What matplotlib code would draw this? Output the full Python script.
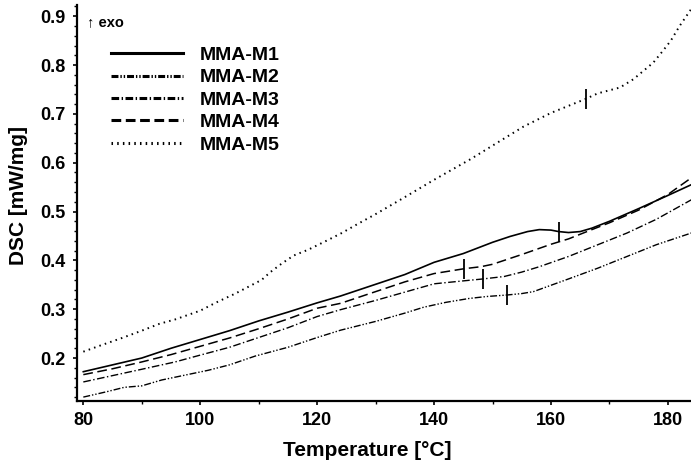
import matplotlib
matplotlib.use("Agg")
import matplotlib.pyplot as plt
from matplotlib.ticker import MultipleLocator

plt.rcParams['font.family'] = ['Liberation Sans', 'DejaVu Sans']
plt.rcParams['lines.scale_dashes'] = False

# ---- data ----
m1_x = [80, 85, 90, 93, 95, 100, 105, 110, 115, 120, 124, 130, 135, 140, 145, 150, 153, 156, 158, 160, 161.3, 163, 165, 167, 170, 175, 180, 184]
m1_y = [0.172, 0.186, 0.200, 0.212, 0.220, 0.238, 0.256, 0.276, 0.294, 0.313, 0.327, 0.351, 0.371, 0.396, 0.414, 0.437, 0.449, 0.459, 0.463, 0.462, 0.459, 0.457, 0.459, 0.466, 0.480, 0.506, 0.533, 0.555]

m2_x = [80, 84, 87, 90, 93.4, 97, 101.4, 105, 109.4, 115, 120, 124, 130, 135, 138.2, 142, 146, 149, 152.4, 155, 157, 160, 163, 168, 173, 178, 184]
m2_y = [0.120, 0.131, 0.140, 0.143, 0.155, 0.164, 0.175, 0.186, 0.204, 0.222, 0.242, 0.257, 0.275, 0.292, 0.304, 0.314, 0.322, 0.326, 0.329, 0.332, 0.336, 0.349, 0.362, 0.384, 0.408, 0.432, 0.456]

m3_x = [80, 85, 90, 95.7, 100, 105, 110, 115, 120, 124, 130, 135, 140, 145, 148.4, 152, 155, 158, 163, 168, 173, 178, 184]
m3_y = [0.151, 0.164, 0.177, 0.192, 0.206, 0.222, 0.242, 0.262, 0.285, 0.299, 0.318, 0.335, 0.352, 0.358, 0.362, 0.367, 0.376, 0.387, 0.408, 0.432, 0.456, 0.484, 0.524]

m4_x = [80, 85, 90, 95, 100, 105, 110, 115, 120, 124, 130, 135, 140, 145.2, 148, 150, 155, 160, 163, 167, 170, 175, 180, 184]
m4_y = [0.166, 0.178, 0.192, 0.207, 0.224, 0.241, 0.260, 0.280, 0.302, 0.312, 0.336, 0.356, 0.373, 0.383, 0.387, 0.392, 0.412, 0.433, 0.444, 0.463, 0.477, 0.503, 0.535, 0.569]

m5_x = [80, 83, 86.6, 90, 93, 95.7, 100, 102.6, 106, 110.5, 112, 114, 116, 118.5, 121.9, 124.2, 127, 129.9, 134.5, 140, 146.2, 150, 155.3, 160, 165.8, 168, 171.8, 174.1, 176, 177.5, 179.2, 180.5, 182, 184]
m5_y = [0.213, 0.226, 0.241, 0.256, 0.270, 0.279, 0.297, 0.313, 0.332, 0.360, 0.376, 0.394, 0.410, 0.422, 0.442, 0.456, 0.475, 0.494, 0.526, 0.565, 0.607, 0.635, 0.674, 0.702, 0.730, 0.742, 0.754, 0.771, 0.790, 0.805, 0.830, 0.850, 0.880, 0.915]

labels = ["MMA-M1", "MMA-M2", "MMA-M3", "MMA-M4", "MMA-M5"]
# glass transition marks (x, y)
tg_x = [161.3, 152.4, 148.4, 145.2, 166.0]
tg_y = [0.459, 0.329, 0.362, 0.383, 0.731]

xs = [m1_x, m2_x, m3_x, m4_x, m5_x]
ys = [m1_y, m2_y, m3_y, m4_y, m5_y]
styles = [
    dict(linestyle='-', lw=1.2),
    dict(linestyle=(0, (5, 1.4, 1, 1.4, 1, 1.4)), lw=1.0),
    dict(linestyle=(0, (5.5, 1.8, 1, 1.8)), lw=1.0),
    dict(linestyle=(0, (7, 3.3)), lw=1.1),
    dict(linestyle=(0, (1.1, 3.0)), lw=1.4),
]

fig = plt.figure(figsize=(6.91, 4.65), dpi=100)
ax = fig.add_axes([77/691, 1-401/465, 614/691, 396/465])

for x, y, lab, st in zip(xs, ys, labels, styles):
    ax.plot(x, y, color='black', label=lab, **st)

ax.plot(tg_x, tg_y, linestyle='none', marker='|', markersize=15, markeredgewidth=1.3, color='black')

ax.set_xlim(78.92, 183.95)
ax.set_ylim(0.112, 0.923)

ax.xaxis.set_major_locator(MultipleLocator(20))
ax.xaxis.set_minor_locator(MultipleLocator(10))
ax.yaxis.set_major_locator(MultipleLocator(0.1))
ax.yaxis.set_minor_locator(MultipleLocator(0.02))
ax.yaxis.set_major_formatter(matplotlib.ticker.FormatStrFormatter('%.1f'))

for s in ['top', 'right']:
    ax.spines[s].set_visible(False)
for s in ['left', 'bottom']:
    ax.spines[s].set_linewidth(1.6)

ax.tick_params(axis='both', which='major', direction='out', length=3, width=1.2, labelsize=13)
ax.tick_params(axis='both', which='minor', direction='out', length=2, width=1.0)
ax.tick_params(axis='x', which='major', pad=5)
ax.tick_params(axis='y', which='major', pad=5)
for lab in ax.get_xticklabels() + ax.get_yticklabels():
    lab.set_fontweight('bold')

ax.set_xlabel("Temperature [°C]", fontsize=15, fontweight='bold')
ax.set_ylabel("DSC [mW/mg]", fontsize=15, fontweight='bold')
ax.xaxis.set_label_coords(0.472, -0.101)
ax.yaxis.set_label_coords(-0.08, 0.518)

ax.text(0.016, 0.975, "↑ exo", transform=ax.transAxes, fontsize=10.5, fontweight='bold',
        va='top', ha='left', family=['Liberation Sans', 'DejaVu Sans'])

leg = ax.legend(loc='upper left', bbox_to_anchor=(0.027, 0.94), frameon=False,
                handlelength=3.7, handletextpad=0.85, labelspacing=0.25,
                prop={'size': 14, 'weight': 'bold'})
for ln in leg.get_lines():
    ln.set_linewidth(2.2)

fig.savefig("out.png", dpi=100)
